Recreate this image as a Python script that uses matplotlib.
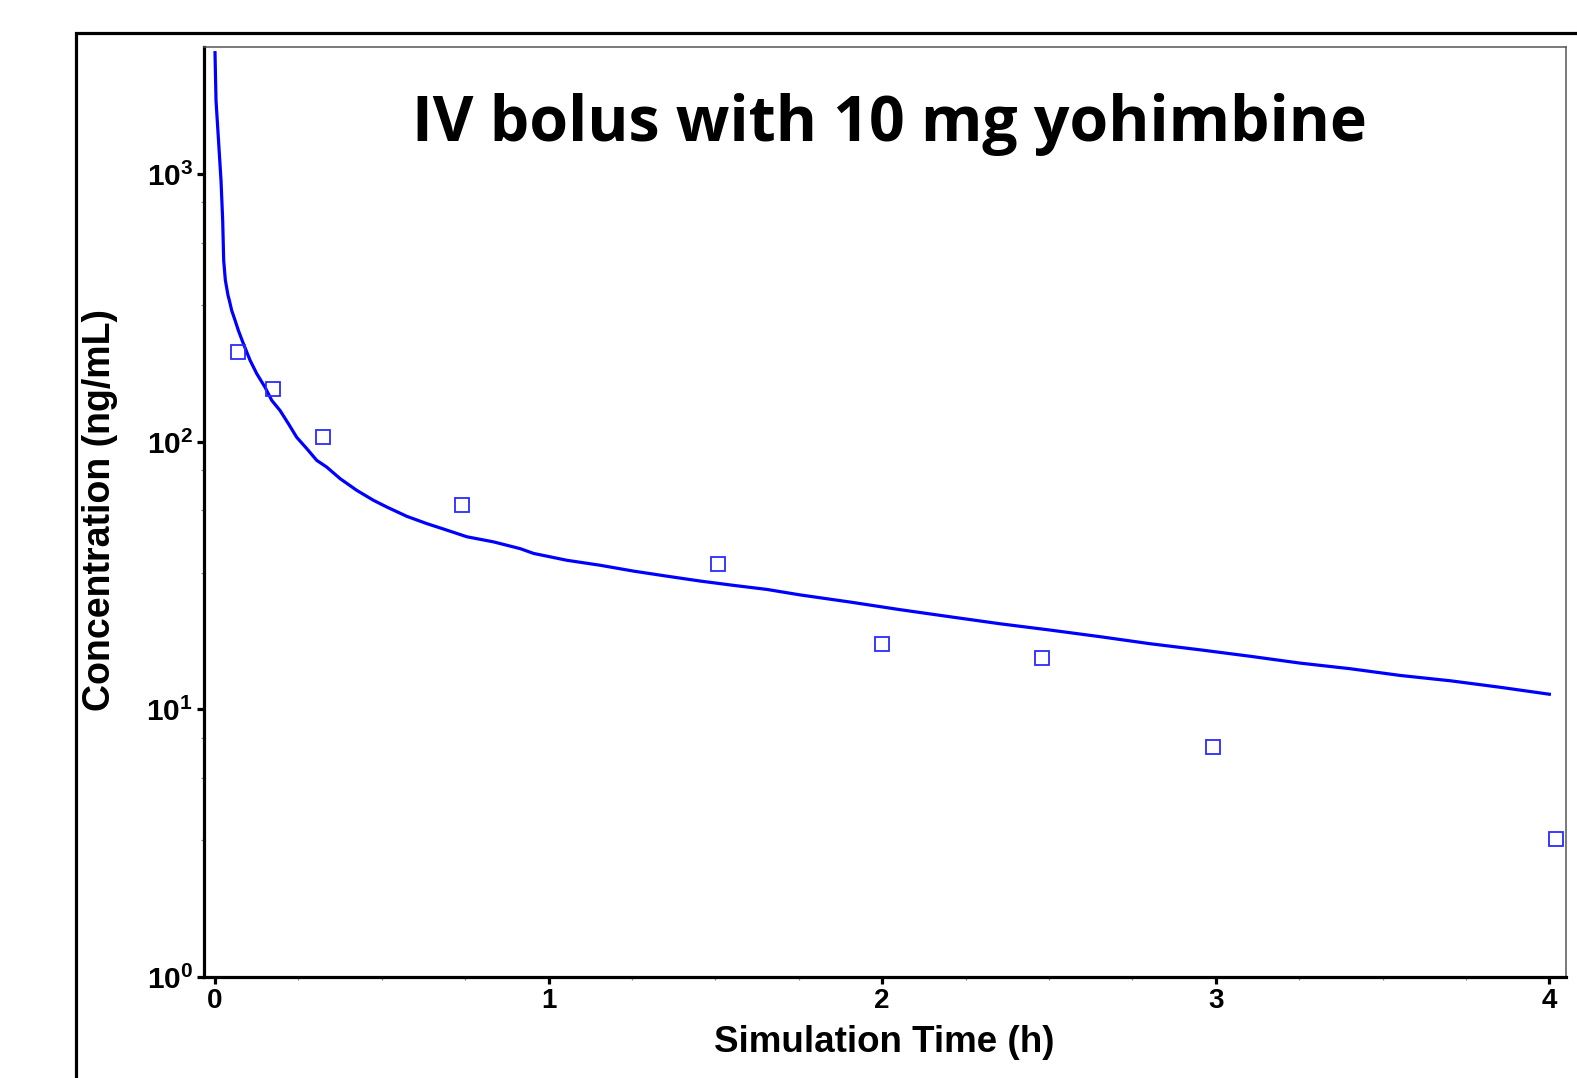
import math
import matplotlib
matplotlib.use("Agg")
import matplotlib.pyplot as plt
from matplotlib.patches import Rectangle
from matplotlib.ticker import FixedLocator, FuncFormatter, NullFormatter

# ---- data ----
t_curve = [0.0, 0.003, 0.0105, 0.018, 0.023, 0.026, 0.031, 0.039, 0.043, 0.050,
           0.060, 0.070, 0.085, 0.105, 0.125, 0.150, 0.170, 0.195, 0.220, 0.245,
           0.275, 0.305, 0.335, 0.375, 0.425, 0.475, 0.515, 0.575, 0.635, 0.695,
           0.755, 0.835, 0.915, 0.955, 1.055, 1.154, 1.254, 1.354, 1.454, 1.554,
           1.654, 1.754, 1.904, 2.054, 2.204, 2.354, 2.504, 2.654, 2.804, 2.954,
           3.104, 3.253, 3.403, 3.553, 3.703, 3.853, 4.0]
c_curve = [2850, 1888, 1339, 949, 673, 477, 402, 353, 338, 310,
           285, 261, 233, 202, 180, 160, 143, 131, 117, 104,
           94.4, 85.3, 80.5, 72.9, 65.9, 60.5, 57.1, 52.7, 49.5, 46.8,
           44.2, 42.3, 39.9, 38.3, 36.1, 34.6, 32.9, 31.5, 30.2, 29.1,
           28.1, 26.8, 25.2, 23.6, 22.2, 20.9, 19.8, 18.7, 17.6, 16.7,
           15.8, 14.9, 14.2, 13.4, 12.8, 12.1, 11.4]

t_obs = [0.068, 0.175, 0.325, 0.740, 1.509, 1.999, 2.479, 2.992, 4.021]
c_obs = [217, 157, 104, 58.3, 35.1, 17.6, 15.6, 7.25, 3.27]

x_ticks = [0, 1, 2, 3, 4]
y_ticks = [1, 10, 100, 1000]
title_text = "IV bolus with 10 mg yohimbine"
x_label = "Simulation Time (h)"
y_label = "Concentration (ng/mL)"

plt.rcParams['mathtext.fontset'] = 'custom'
plt.rcParams['mathtext.bf'] = 'Liberation Sans:bold'
plt.rcParams['mathtext.rm'] = 'Liberation Sans'

W, H = 1577, 1078
fig = plt.figure(figsize=(W / 100, H / 100), dpi=100)

# outer frame (clipped at right and bottom)
fig.patches.append(Rectangle((75.5 / W, -0.05), 1.2, 1 - 32.5 / H + 0.05,
                             transform=fig.transFigure, fill=False,
                             edgecolor='black', linewidth=2.3, zorder=0))

ax_l, ax_r, ax_t, ax_b = 204, 1566, 46.7, 977
ax = fig.add_axes([ax_l / W, 1 - ax_b / H, (ax_r - ax_l) / W, (ax_b - ax_t) / H])
ax.set_yscale('log')
ax.set_xlim(-0.033, 4.05)
ax.set_ylim(1, 3000)

ax.plot(t_curve, c_curve, color='#0000ff', linewidth=2.3, zorder=3)
ax.plot(t_obs, c_obs, linestyle='none', marker='s', markersize=10.5,
        markerfacecolor='none', markeredgecolor='#2a2aff', markeredgewidth=1.3,
        clip_on=False, zorder=4)

for side in ['top', 'right']:
    ax.spines[side].set_color('#555555')
    ax.spines[side].set_linewidth(1.1)
for side in ['left', 'bottom']:
    ax.spines[side].set_color('black')
    ax.spines[side].set_linewidth(2.3)

ax.xaxis.set_major_locator(FixedLocator(x_ticks))
ax.xaxis.set_minor_locator(FixedLocator([q / 4 for q in range(1, 17) if q % 4]))
ax.yaxis.set_major_locator(FixedLocator(y_ticks))
minor_y = [v for v in [d * f for d in [1, 10, 100, 1000] for f in [3.24, 5.56, 7.85]]
           if v < 3000]
ax.yaxis.set_minor_locator(FixedLocator(minor_y))
ax.yaxis.set_minor_formatter(NullFormatter())

ax.xaxis.set_major_formatter(FuncFormatter(lambda v, p: f"{int(round(v))}"))
ax.yaxis.set_major_formatter(FuncFormatter(
    lambda v, p: r"$\mathbf{10^{%d}}$" % int(round(math.log10(v)))))

ax.tick_params(axis='both', which='major', direction='out', length=5, width=2.3,
               color='black', labelsize=20, pad=3)
ax.tick_params(axis='both', which='minor', direction='out', length=2.5, width=0.9,
               color='#888888')
for lab in ax.get_xticklabels():
    lab.set_fontfamily('Liberation Sans')
    lab.set_fontweight('bold')
ax.tick_params(axis='y', which='major', labelsize=21.5)

ax.set_xlabel(x_label, fontfamily='Liberation Sans', fontweight='bold',
              fontsize=26.5, va='center')
ax.xaxis.set_label_coords((884 - ax_l) / (ax_r - ax_l), (ax_b - 1043) / (ax_b - ax_t))
ax.set_ylabel(y_label, fontfamily='Liberation Sans', fontweight='bold',
              fontsize=27, va='center')
ax.yaxis.set_label_coords((100.5 - ax_l) / (ax_r - ax_l), (ax_b - 510) / (ax_b - ax_t))

# title placed inside the figure
ttl = fig.text(890 / W, 1 - 141 / H, title_text, fontfamily='Open Sans',
               fontweight='bold', fontsize=46, ha='center', va='baseline')
fig.canvas.draw()
r = fig.canvas.get_renderer()
bb = ttl.get_window_extent(r)
ttl.set_fontsize(46 * 956 / bb.width)

fig.savefig('out.png', dpi=100)
